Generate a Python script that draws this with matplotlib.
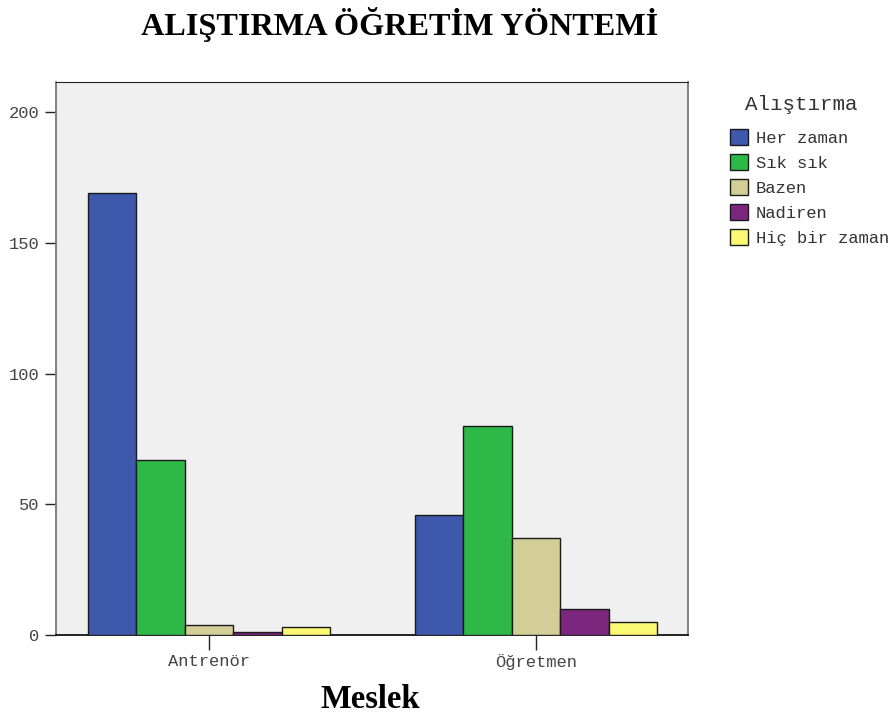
import matplotlib
matplotlib.use("Agg")
import matplotlib.pyplot as plt
import numpy as np

categories = ["Antrenör", "Öğretmen"]
series_names = ["Her zaman", "Sık sık", "Bazen", "Nadiren", "Hiç bir zaman"]
values = {
    "Her zaman": [169, 46],
    "Sık sık": [67, 80],
    "Bazen": [4, 37],
    "Nadiren": [1, 10],
    "Hiç bir zaman": [3, 5],
}
colors = ["#3E58AC", "#2EB848", "#D3CE97", "#7B277D", "#FBF873"]
yticks = [0, 50, 100, 150, 200]

fig = plt.figure(figsize=(8.92, 7.15), dpi=100)
ax = fig.add_axes([56/892, 80/715, 632/892, 553/715])
ax.set_facecolor("#F0F0F0")

x = np.arange(len(categories))
bw = 0.148
n = len(series_names)
handles = []
for i, (name, col) in enumerate(zip(series_names, colors)):
    off = (i - (n - 1) / 2) * bw
    b = ax.bar(x + off, values[name], width=bw, color=col, edgecolor="#1a1a1a",
               linewidth=1.0, label=name, zorder=3)
    handles.append(b)

ax.set_xlim(-0.468, 1.465)
ax.set_ylim(0, 211.5)
ax.set_yticks(yticks)
ax.set_xticks(x)
ax.set_xticklabels(categories)

mono = "Liberation Mono"
fs = 12.3
for lab in ax.get_xticklabels() + ax.get_yticklabels():
    lab.set_family(mono)
    lab.set_fontsize(fs)
    lab.set_color("#444444")
ax.tick_params(axis="y", length=8, width=1, color="#222222", pad=4)
ax.tick_params(axis="x", length=11, width=1, color="#222222", pad=3)

for s in ["left", "right"]:
    ax.spines[s].set_color("#777777")
    ax.spines[s].set_linewidth(1.3)
ax.spines["top"].set_color("#222222")
ax.spines["bottom"].set_color("#111111")
ax.spines["bottom"].set_linewidth(1.3)

fig.text(400/892, 1 - 24/715, "ALIŞTIRMA ÖĞRETİM YÖNTEMİ", ha="center", va="center",
         family="Liberation Serif", fontweight="bold", fontsize=23.2)
fig.text(370/892, 1 - 699/715, "Meslek", ha="center", va="center",
         family="Liberation Serif", fontweight="bold", fontsize=23.5)

fig.text(801/892, 1 - 105/715, "Alıştırma", ha="center", va="center",
         family=mono, fontsize=15, color="#333333")

leg = ax.legend(handles=handles, labels=series_names, loc="upper left",
                bbox_to_anchor=(730/892, 1 - 129/715), bbox_transform=fig.transFigure,
                frameon=False, prop={"family": mono, "size": fs},
                handlelength=1.05, handleheight=1.05, handletextpad=0.47,
                labelspacing=0.49, borderaxespad=0, borderpad=0)
for t in leg.get_texts():
    t.set_color("#333333")

fig.savefig("out.png", dpi=100)
